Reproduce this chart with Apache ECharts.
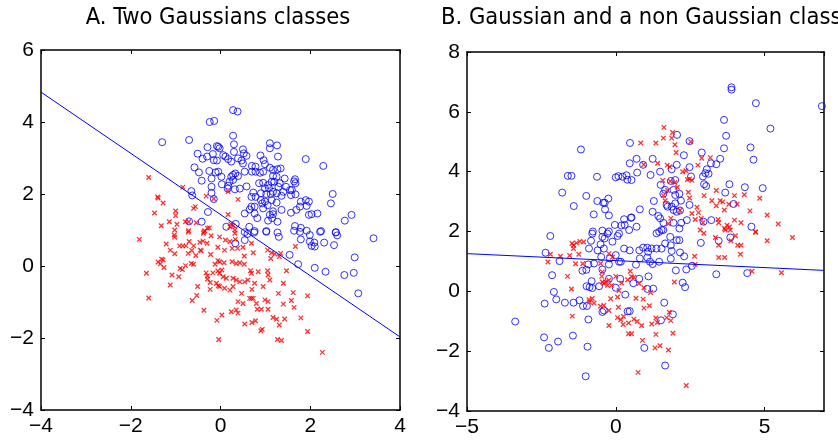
<!DOCTYPE html>
<html>
<head>
<meta charset="utf-8">
<script src="https://cdn.jsdelivr.net/npm/echarts@6/dist/echarts.min.js"></script>
<style>
  html, body { margin: 0; padding: 0; background: #fff; }
  #chart { width: 838px; height: 440px; }
</style>
</head>
<body>
<div id="chart"></div>
<script>
// panel titles
var titleA = 'A. Two Gaussians classes';
var titleB = 'B. Gaussian and a non Gaussian classes';

// panel A: two gaussian classes
var blueA = [
  [-0.24,4.00],[-0.14,4.03],[-1.30,3.44],[-0.70,3.50],[-0.08,3.33],[-0.29,3.30],[-0.51,3.12],[-0.30,3.04],
  [-0.40,2.98],[-0.17,3.11],[-0.15,2.94],[-0.08,2.93],[-0.58,2.74],[-0.48,2.60],[-0.25,2.64],[-0.11,2.60],
  [-0.20,2.43],[-0.42,2.37],[-0.20,2.20],[-0.65,2.08],[-0.63,1.96],[-0.20,2.03],[-0.15,1.86],[-0.28,1.50],
  [-0.42,1.23],[-0.70,1.24],
  [0.28,4.33],[0.38,4.29],[0.28,3.62],[0.30,3.38],[1.10,3.41],[1.10,3.27],[1.26,3.35],[-0.05,3.31],
  [-0.02,3.27],[0.06,3.08],[0.11,3.04],[0.17,2.97],[0.30,3.17],[0.50,3.24],[0.52,3.13],[0.39,2.99],
  [0.47,2.93],[0.58,3.06],[0.50,2.85],[0.24,2.90],[0.89,3.07],[0.96,2.94],[0.99,2.83],[1.28,3.04],
  [1.90,2.97],[2.29,2.78],[0.70,2.78],[0.78,2.76],[0.70,2.62],[0.78,2.62],[0.88,2.59],[1.10,2.73],
  [1.17,2.67],[1.27,2.69],[1.34,2.71],[0.54,2.62],[0.95,2.62],[1.17,2.50],[1.25,2.48],[1.20,2.34],
  [1.43,2.43],[1.66,2.41],[1.67,2.30],[1.64,2.35],[0.28,2.53],[0.33,2.57],[0.24,2.48],[0.20,2.34],
  [0.28,2.39],[0.39,2.50],[-0.05,2.62],[0.02,2.48],[0.03,2.27],[0.17,2.23],[0.16,2.15],[0.32,2.13],
  [0.43,2.15],[0.58,2.21],[0.86,2.30],[0.95,2.31],[1.06,2.25],[1.14,2.34],[1.32,2.30],[1.29,2.20],
  [1.46,2.20],[1.55,2.11],[0.99,2.16],[1.08,2.16],[1.17,2.06],[0.90,2.02],[1.02,2.00],[1.12,2.00],
  [0.73,2.04],[0.69,1.92],[0.78,1.92],[1.25,2.02],[1.36,1.95],[1.40,2.06],[1.57,1.97],[1.67,1.99],
  [1.59,2.11],[1.90,1.83],[1.97,1.79],[1.92,1.67],[1.79,1.79],[1.77,1.65],[2.50,2.00],[2.46,1.74],
  [0.90,1.83],[0.99,1.79],[0.93,1.74],[1.05,1.69],[0.95,1.60],[0.69,1.65],[0.76,1.65],[1.14,1.83],
  [1.25,1.76],[1.36,1.56],[1.17,1.52],[1.57,1.48],[1.69,1.56],[0.54,1.46],[0.65,1.57],[0.76,1.46],
  [0.82,1.33],[1.10,1.42],[1.15,1.33],[1.06,1.26],[1.27,1.23],[1.17,1.44],[1.97,1.42],[2.03,1.44],
  [2.16,1.46],[2.92,1.42],[2.77,1.26],[0.13,1.09],[0.34,1.17],[0.64,1.09],[1.66,1.11],[1.79,1.06],
  [1.92,0.98],[1.64,0.98],[2.24,0.97],[2.57,0.94],[1.02,0.97],[0.76,0.97],[0.54,0.94],
  [0.75,0.93],[0.60,0.89],[0.54,0.72],[0.33,0.63],[1.02,0.95],[1.27,0.93],[1.30,0.81],[1.77,0.95],
  [1.79,0.74],[1.99,0.86],[1.99,0.68],[2.03,0.56],[2.10,0.54],[2.09,0.65],[2.22,0.95],[2.31,0.65],
  [2.53,0.58],[2.57,0.93],[2.60,0.85],[3.41,0.77],[1.54,0.31],[1.73,0.05],[2.10,-0.05],[2.34,-0.16],
  [2.76,-0.25],[2.97,-0.19],[2.99,0.24],[3.07,-0.76]
];
var redA = [
  [-1.60,2.46],[-0.84,2.19],[-1.40,1.92],[-1.39,1.89],[-1.28,1.75],[-0.32,1.94],[-0.15,1.87],[-0.60,1.60],
  [-0.56,1.65],[-1.47,1.47],[-1.00,1.53],[-1.00,1.40],[-1.14,1.23],[-1.32,1.12],[-0.97,1.16],[-0.78,1.23],
  [-0.71,1.23],[-0.54,1.20],[-0.29,1.05],[-0.25,1.06],[-0.71,0.98],[-0.35,0.98],
  [0.17,2.07],[0.39,1.85],[0.17,1.43],[0.23,1.17],[0.28,1.12],[0.32,1.00],[0.21,1.09],
  [-1.81,0.74],[-1.02,1.00],[-1.03,0.86],[-1.02,0.80],[-0.72,0.94],[-0.38,0.91],[-0.37,0.95],[-0.21,0.84],
  [-1.21,0.61],[-0.91,0.56],[-0.84,0.56],[-0.77,0.56],[-0.70,0.68],[-0.60,0.56],[-0.46,0.66],[-0.39,0.69],
  [-0.30,0.63],[-0.43,0.42],[-0.45,0.44],[-1.12,0.44],[-1.02,0.34],[-0.72,0.35],[-0.64,0.43],[-0.55,0.29],
  [-0.22,0.32],[-0.06,0.52],[-1.31,0.19],[-1.39,0.11],[-1.34,0.06],[-1.26,-0.04],[-1.28,0.17],[-0.65,0.07],
  [-0.60,0.05],[-0.78,0.01],[-0.90,-0.07],[-0.85,-0.10],[-0.12,0.05],[-0.06,0.15],[-1.65,-0.20],[-1.08,-0.25],
  [-0.93,-0.30],[-0.32,-0.19],[-0.29,-0.28],[-0.17,-0.19],[-0.29,-0.36],[-0.23,-0.46],[-0.06,-0.14],[-0.09,-0.48],
  [-0.05,-0.55],[-1.12,-0.53],[-0.51,-0.57],[-0.23,-0.65],[-1.60,-0.89],[-0.53,-0.82],[-0.63,-0.96],[-0.37,-1.23],
  [-0.08,-1.51],[-0.04,-2.04],
  [-0.02,0.81],[0.11,0.72],[0.21,0.68],[0.32,0.91],[0.33,0.74],[0.09,0.44],[0.26,0.49],[0.38,0.49],
  [0.50,0.52],[0.69,0.63],[0.73,0.37],[0.53,0.28],[1.05,0.44],[1.14,0.37],[1.21,0.33],[1.67,0.54],
  [1.34,0.35],[1.31,0.26],[1.12,0.21],[-0.02,0.12],[0.08,0.09],[0.26,0.12],[0.35,0.07],[0.43,0.09],
  [0.53,0.05],[0.03,-0.11],[-0.02,-0.20],[0.06,-0.30],[0.13,-0.34],[0.28,-0.34],[0.35,-0.39],[0.43,-0.44],
  [0.54,-0.44],[0.61,-0.39],[0.67,-0.13],[0.69,-0.20],[0.84,-0.16],[1.05,-0.13],[1.06,-0.25],[1.10,-0.39],
  [1.47,-0.13],[0.76,-0.48],[0.95,-0.57],[1.40,-0.48],[-0.02,-0.57],[0.09,-0.62],[0.21,-0.67],[0.28,-0.57],
  [0.47,-0.76],[0.70,-0.65],[0.69,-0.90],[0.39,-0.99],[0.50,-1.04],[0.65,-0.90],[0.73,-0.90],[0.80,-1.04],
  [0.99,-0.94],[1.06,-0.99],[1.29,-0.76],[1.62,-0.74],[1.94,-0.83],[1.58,-0.96],[1.40,-1.06],[1.64,-1.15],
  [0.03,-1.36],[0.24,-1.27],[0.35,-1.22],[0.39,-1.31],[0.82,-1.20],[0.91,-1.20],[1.06,-1.20],[1.17,-1.43],
  [1.25,-1.48],[1.43,-1.47],[1.79,-1.44],[0.54,-1.61],[0.70,-1.57],[0.78,-1.52],[0.90,-1.80],[0.93,-1.76],
  [1.31,-1.64],[1.94,-1.82],[1.27,-2.04],[1.36,-2.07],[2.27,-2.40]
];
var lineA = [[-4, 4.83], [4, -1.97]];

// panel B: gaussian (blue) vs non gaussian (red)
var blueB = [
  [-1.17,4.74],[0.48,4.96],[-1.61,3.86],[-1.49,3.86],[-0.63,3.83],[0.00,3.81],[0.09,3.85],[0.23,3.83],
  [0.36,3.88],[0.39,3.73],[-1.80,3.30],[-0.99,3.19],[-0.62,3.02],[-0.42,2.96],[-0.37,2.96],[-0.25,3.10],
  [-1.41,2.85],[-0.36,2.74],[-0.74,2.57],[-0.23,2.54],[0.28,2.41],[0.51,2.46],[-0.03,2.22],[0.19,2.20],
  [0.45,2.05],[-0.77,2.00],[-0.45,2.03],[-0.23,2.00],[0.30,2.22],[-0.37,1.77],
  [3.89,6.82],[3.89,6.74],[4.71,6.29],[6.93,6.19],[3.64,5.73],[5.20,5.44],[3.71,5.20],[2.06,5.23],
  [2.48,5.02],[3.64,4.78],[4.53,4.81],[4.63,4.40],[2.89,4.64],[2.29,4.55],[0.70,4.43],[1.24,4.43],
  [3.51,4.43],[3.20,4.28],[3.38,4.25],[0.47,4.28],[0.92,4.23],[0.72,3.97],[0.53,3.72],[1.49,4.00],
  [1.17,3.89],[1.88,4.08],[2.05,4.23],[2.48,4.15],[2.53,3.84],[3.06,4.08],[3.01,3.95],[3.12,3.93],
  [2.93,3.84],[1.51,3.56],[1.60,3.26],[1.66,3.39],[1.85,3.69],[2.00,3.72],[1.94,3.39],[2.00,3.22],
  [2.97,3.58],[3.04,3.52],[3.82,3.58],[3.68,3.30],[4.34,3.48],[4.94,3.45],[2.14,3.26],[2.19,3.03],
  [2.00,2.94],[1.71,2.89],[1.88,2.83],[2.48,2.89],[3.96,2.92],[1.28,3.02],[0.81,2.74],[1.24,2.66],
  [1.43,2.52],[1.49,2.44],[1.60,2.29],[1.74,2.83],[1.94,2.72],[2.05,2.66],[2.16,2.70],[0.53,2.47],
  [0.70,2.16],[1.94,2.29],[2.20,2.29],[2.95,2.33],[3.21,2.38],[4.56,2.16],[1.60,2.05],[2.14,2.10],
  [2.39,2.38],
  [-3.38,-1.01],[-2.20,1.85],[-2.36,1.29],[-1.89,1.01],[-2.14,0.54],[-2.08,-0.02],[-2.00,-0.27],[-2.39,-0.41],
  [-1.71,-0.38],[-1.42,-0.38],[-1.22,-0.30],[-1.10,-0.49],[-0.97,-0.49],[-1.44,-1.48],[-2.41,-1.54],[-2.25,-1.89],
  [-1.94,-1.68],[-0.92,-0.94],[-0.95,-1.85],[-1.01,-2.84],[-1.12,0.69],[-0.99,0.72],[-0.92,0.90],[-0.73,0.93],
  [-0.45,0.73],[-0.23,0.90],[-0.49,1.15],[-0.98,0.17],[-0.88,0.14],[-0.81,0.34],[-0.56,0.17],[-0.79,0.11],
  [-0.90,1.43],[-0.61,1.37],[-0.51,1.57],[-0.40,1.43],[-0.45,1.82],[-0.28,1.93],[-0.11,1.66],[0.06,1.85],
  [0.11,1.93],[-0.79,1.93],[-0.83,1.69],[0.00,1.21],[-0.20,1.10],[0.11,0.99],[0.17,0.99],[0.28,1.43],
  [-0.23,0.42],[0.15,0.42],[0.00,0.12],[0.32,-0.11],[0.40,-0.67],[-0.45,-0.69],[-0.40,-0.64],
  [1.37,1.94],[1.46,1.99],[1.54,2.05],[1.66,1.60],[1.83,1.82],[1.85,1.54],[2.05,1.71],[2.14,1.71],
  [1.88,1.35],[2.16,1.30],[2.30,1.17],[1.85,1.09],[0.47,1.37],[0.79,1.37],[0.92,1.46],[1.06,1.46],
  [1.37,1.43],[1.54,1.43],[1.06,1.13],[1.15,0.99],[1.24,0.91],[1.46,0.99],[0.68,0.89],[2.02,0.70],
  [2.37,0.73],[2.56,0.85],[2.25,0.29],[2.33,0.14],[3.38,0.57],[4.42,0.61],[2.86,1.62],[3.46,1.69],
  [3.85,1.80],[1.10,0.50],[0.79,0.42],[0.59,0.27],[1.06,0.08],[1.63,-0.38],[1.92,-0.77],[1.52,-0.97],
  [0.47,-0.66],[0.96,-1.89],[1.66,-2.48],[1.20,1.43],[1.09,1.32],[0.81,1.10],[1.26,0.09]
];
var redB = [
  [1.62,5.48],[1.60,5.12],[1.35,4.96],[1.91,5.31],[1.88,5.12],[1.99,4.90],[2.03,4.64],[0.84,4.96],
  [0.94,4.24],[1.41,4.28],[1.73,4.22],[1.82,4.16],[2.76,4.22],[2.89,4.45],[3.18,4.47],[2.25,4.00],
  [2.36,4.03],[2.52,5.00],[1.58,3.71],[1.83,3.68],[2.41,3.74],[2.48,3.76],[2.56,3.71],[1.99,3.64],
  [2.07,3.48],[1.74,3.37],[2.44,3.31],[1.60,3.20],[1.66,3.03],[3.38,3.37],[2.97,3.20],[3.99,3.20],
  [4.32,3.23],[4.84,3.11],[3.23,3.03],[3.51,3.03],[3.60,2.99],[3.80,2.91],[3.38,2.86],[3.65,2.72],
  [4.51,2.69],[5.09,2.55],[5.46,2.25],[4.08,2.91],[2.73,2.81],[2.78,2.63],[2.56,2.60],[2.67,2.40],
  [2.87,2.44],[2.93,2.29],[3.44,2.40],[3.46,2.29],[3.74,2.21],[3.82,2.15],[3.99,2.38],[4.21,2.29],
  [3.66,2.10],[4.70,1.99],[1.77,2.26],[2.16,2.71],[1.85,2.44],[2.48,3.12],
  [-2.20,1.24],[-2.28,0.98],[-1.86,1.17],[-1.55,1.20],[-1.42,1.43],[-1.35,0.92],[-1.24,1.24],[-1.11,0.92],
  [-1.08,1.65],[-1.47,1.60],[-1.32,1.62],[-1.21,1.67],[-1.42,1.54],[-1.62,0.50],[-1.49,0.08],[-1.46,-0.83],
  [-0.90,-0.28],[-0.88,-0.36],[-0.79,-0.24],[-0.73,-0.39],[-0.51,0.93],[-0.47,0.50],[-0.45,0.31],[-0.40,0.26],
  [-0.34,0.31],[-0.28,0.20],[-0.23,0.37],[-0.14,0.20],[-0.45,0.65],[-0.23,1.26],[-0.11,1.15],[-0.51,-0.50],
  [-0.40,-0.47],[-0.23,-0.64],[-0.17,-0.25],[0.06,-0.19],[0.11,0.03],[0.09,-0.53],[0.06,-0.88],[0.17,-0.95],
  [0.26,-0.84],[0.25,-1.11],[0.43,-1.06],[-0.23,-1.14],[0.43,-1.42],[0.49,0.67],[0.40,0.39],[0.00,0.50],
  [0.20,0.28],
  [2.96,1.94],[3.35,1.80],[3.46,1.54],[3.87,1.69],[4.02,1.86],[4.21,1.54],[4.10,1.54],[4.19,1.24],
  [4.70,1.97],[5.09,1.69],[5.94,1.80],[3.46,1.13],[3.66,1.13],[2.65,1.17],[2.67,0.90],[4.58,0.67],
  [5.57,0.62],[1.97,0.31],[3.85,2.05],[3.68,2.05],[2.84,2.05],[0.53,0.49],[0.61,0.47],[0.78,0.26],
  [0.95,0.12],[1.17,-0.04],[0.68,-0.23],[0.92,-0.26],[0.95,-0.56],[1.13,-0.48],[0.61,-0.93],[0.72,-1.01],
  [0.87,-1.14],[0.53,-1.42],[1.21,-1.09],[1.35,-0.89],[1.40,-1.04],[1.71,-0.88],[1.80,-0.70],[1.85,-0.98],
  [1.35,-1.44],[1.92,-1.40],[0.90,-1.64],[1.32,-1.89],[1.49,-1.82],[1.77,-1.96],[0.75,-2.71],[2.37,-3.15]
];
var lineB = [[-5, 1.26], [7, 0.70]];

var myChart = echarts.init(document.getElementById('chart'));

var labelFont = { fontSize: 21, fontFamily: 'Liberation Sans', color: '#000' };
var titleFont = "'DejaVu Sans Condensed', 'Open Sans', sans-serif";
function fmt(v) { return String(v).replace('-', '\u2212'); }

// one visible axis with labels + its mirror on the other side (ticks only)
function xAxes(gi, min, max, step, showMax) {
  return [
    { gridIndex: gi, type: 'value', min: min, max: max, interval: step, position: 'bottom',
      axisLine: { onZero: false, lineStyle: { color: '#000', width: 1.5 } },
      axisTick: { inside: true, length: 4, lineStyle: { color: '#000' } },
      axisLabel: Object.assign({ margin: 6, formatter: fmt, showMaxLabel: showMax }, labelFont),
      splitLine: { show: false } },
    { gridIndex: gi, type: 'value', min: min, max: max, interval: step, position: 'top',
      axisLine: { onZero: false, lineStyle: { color: '#000', width: 1.5 } },
      axisTick: { inside: true, length: 4, lineStyle: { color: '#000' } },
      axisLabel: { show: false }, splitLine: { show: false } }
  ];
}
function yAxes(gi, min, max, step) {
  return [
    { gridIndex: gi, type: 'value', min: min, max: max, interval: step, position: 'left',
      axisLine: { onZero: false, lineStyle: { color: '#000', width: 1.5 } },
      axisTick: { inside: true, length: 4, lineStyle: { color: '#000' } },
      axisLabel: Object.assign({ margin: 7, formatter: fmt }, labelFont),
      splitLine: { show: false } },
    { gridIndex: gi, type: 'value', min: min, max: max, interval: step, position: 'right',
      axisLine: { onZero: false, lineStyle: { color: '#000', width: 1.5 } },
      axisTick: { inside: true, length: 4, lineStyle: { color: '#000' } },
      axisLabel: { show: false }, splitLine: { show: false } }
  ];
}

var circleStyle = { color: 'rgba(0,0,0,0)', borderColor: '#0000ff', borderWidth: 1 };
var crossStyle = { color: 'rgba(0,0,0,0)', borderColor: '#ff0000', borderWidth: 1.3 };
var crossPath = 'path://M0,0L10,10M10,0L0,10';

var option = {
  animation: false,
  backgroundColor: '#fff',
  graphic: [
    { type: 'text', x: 218, y: 18, style: { text: titleA, align: 'center', verticalAlign: 'middle',
      fontSize: 23.5, fontFamily: titleFont, fill: '#000' } },
    { type: 'text', x: 441, y: 18, style: { text: titleB, align: 'left', verticalAlign: 'middle',
      fontSize: 23.5, fontFamily: titleFont, fill: '#000' } }
  ],
  grid: [
    { left: 41, top: 50, width: 359, height: 360 },
    { left: 467, top: 52, width: 357, height: 359 }
  ],
  xAxis: xAxes(0, -4, 4, 2, true).concat(xAxes(1, -5, 7, 5, false)),
  yAxis: yAxes(0, -4, 6, 2).concat(yAxes(1, -4, 8, 2)),
  series: [
    { type: 'line', xAxisIndex: 0, yAxisIndex: 0, data: lineA, symbol: 'none',
      lineStyle: { color: '#0000ff', width: 1 } },
    { type: 'scatter', xAxisIndex: 0, yAxisIndex: 0, data: blueA, symbol: 'circle', symbolSize: 7,
      itemStyle: circleStyle },
    { type: 'scatter', xAxisIndex: 0, yAxisIndex: 0, data: redA, symbol: crossPath, symbolSize: 4.5,
      itemStyle: crossStyle },
    { type: 'line', xAxisIndex: 2, yAxisIndex: 2, data: lineB, symbol: 'none',
      lineStyle: { color: '#0000ff', width: 1 } },
    { type: 'scatter', xAxisIndex: 2, yAxisIndex: 2, data: blueB, symbol: 'circle', symbolSize: 7,
      itemStyle: circleStyle },
    { type: 'scatter', xAxisIndex: 2, yAxisIndex: 2, data: redB, symbol: crossPath, symbolSize: 4.5,
      itemStyle: crossStyle }
  ]
};
myChart.setOption(option);
</script>
</body>
</html>
